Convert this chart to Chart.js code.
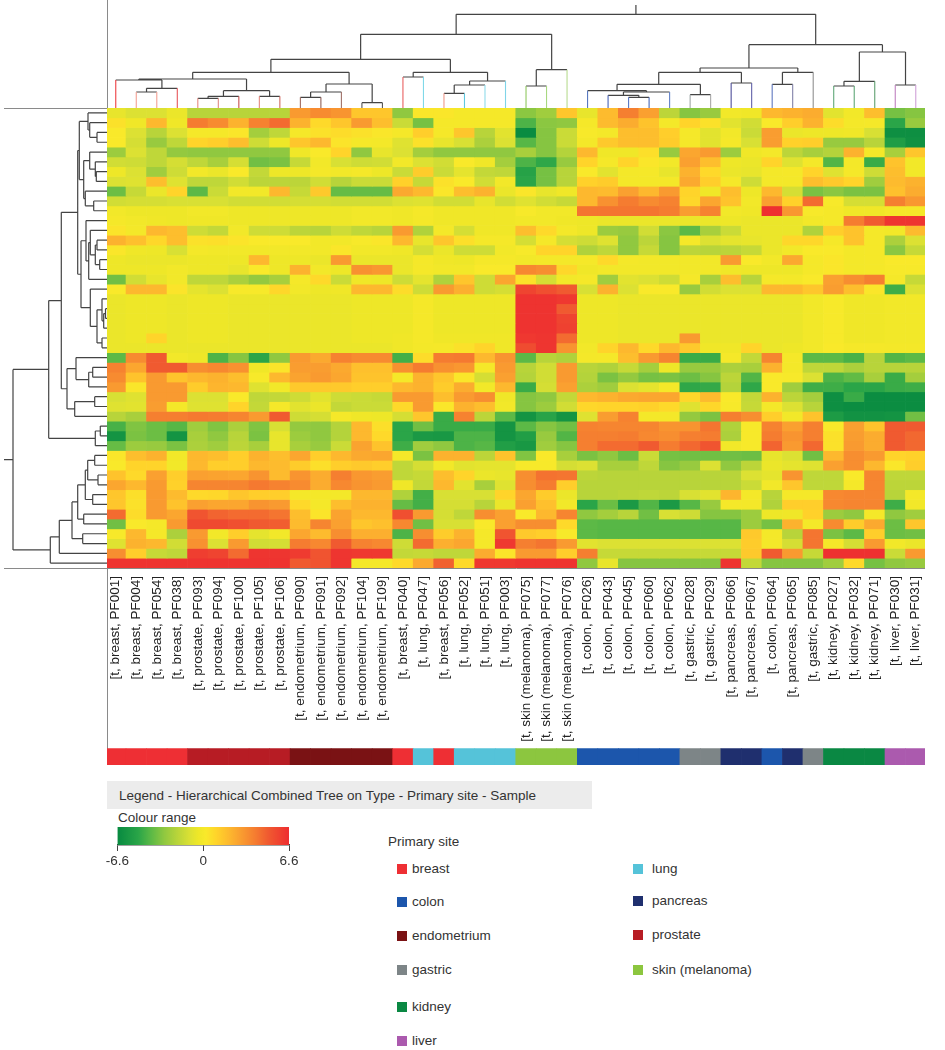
<!DOCTYPE html>
<html>
<head>
<meta charset="utf-8">
<title>Hierarchical Combined Tree</title>
<script src="https://cdn.jsdelivr.net/npm/chart.js@4/dist/chart.umd.min.js"></script>
<style>
  body { margin:0; background:#fff; font-family:"Liberation Sans",sans-serif; color:#333; }
  canvas { position:absolute; }
  .txt { position:absolute; font-size:13.5px; line-height:14px; white-space:nowrap; }
  .box { position:absolute; width:10px; height:10px; }
  #legendBar { position:absolute; left:107px; top:781px; width:485px; height:28px; background:#ececec; }
</style>
</head>
<body>
<div id="legendBar"></div>
<script>
// samples, left to right
const sampleLabels = [
  "[t, breast, PF001]","[t, breast, PF004]","[t, breast, PF054]","[t, breast, PF038]",
  "[t, prostate, PF093]","[t, prostate, PF094]","[t, prostate, PF100]","[t, prostate, PF105]","[t, prostate, PF106]",
  "[t, endometrium, PF090]","[t, endometrium, PF091]","[t, endometrium, PF092]","[t, endometrium, PF104]","[t, endometrium, PF109]",
  "[t, breast, PF040]","[t, lung, PF047]","[t, breast, PF056]","[t, lung, PF052]","[t, lung, PF051]","[t, lung, PF003]",
  "[t, skin (melanoma), PF075]","[t, skin (melanoma), PF077]","[t, skin (melanoma), PF076]",
  "[t, colon, PF026]","[t, colon, PF043]","[t, colon, PF045]","[t, colon, PF060]","[t, colon, PF062]",
  "[t, gastric, PF028]","[t, gastric, PF029]","[t, pancreas, PF066]","[t, pancreas, PF067]",
  "[t, colon, PF064]","[t, pancreas, PF065]","[t, gastric, PF085]",
  "[t, kidney, PF027]","[t, kidney, PF032]","[t, kidney, PF071]","[t, liver, PF030]","[t, liver, PF031]"
]
const sampleSites = [
  "breast","breast","breast","breast","prostate","prostate","prostate","prostate","prostate",
  "endometrium","endometrium","endometrium","endometrium","endometrium",
  "breast","lung","breast","lung","lung","lung",
  "skin (melanoma)","skin (melanoma)","skin (melanoma)",
  "colon","colon","colon","colon","colon","gastric","gastric","pancreas","pancreas",
  "colon","pancreas","gastric","kidney","kidney","kidney","liver","liver"
]
const siteNames = ["breast","colon","endometrium","gastric","kidney","liver","lung","pancreas","prostate","skin (melanoma)"]
const siteColours = ["#ee2f34","#1c56ac","#7a1214","#7d8587","#0a8843","#ab5aae","#55c3d9","#1f2f6e","#b71c24","#8cc63f"]

// colour scale
const colourStopValues = [-6.6,-5,-4,-3,-2,-1,-0.4,0.2,1,2,3,4,5,6.6]
const colourStopHex = ["#078a40","#2aa548","#5cb946","#90c840","#b8d43a","#dce133","#eee728","#f9e92a","#ffd42a","#fdb82e","#f99a30","#f57c30","#f05a30","#ee2d30"]
const colourTicks = [-6.6,0,6.6]

// one line per row, one value per sample
const cellRows = [
[-0.6,-1,-1,-0.5,-2,-2,-2,-2,-2,3,3.5,3.2,1.5,1.5,-3,0.3,0.3,0,0,0,-3.1,-2.6,1.5,-0.6,1.9,3.9,2.8,-1.9,-3.2,-2.8,-0.2,-0.3,2,2.2,2.4,-0.8,-0.2,1.8,-3.5,-3.2],
[0.5,-0.3,2,-0.3,4,3.5,2.2,3.8,4.5,2.2,0.8,1.5,3,1.8,-1.5,-3.5,0,0,0,0,-4.3,-3.1,-3,0,1.9,2.4,1.6,-0.1,1,0.5,-0.8,-1.3,0.2,1.2,2.2,0.7,-0.1,0,-5,-2.8],
[0.2,-1,-2,-1,0,0,0.3,-2.5,-1.8,0,0.5,0.7,0.5,0.3,0,1.2,0,1.5,-2,-0.8,-6.5,-3.2,-1.5,0.1,-0.1,1.8,1.8,1.2,0,-0.8,-0.2,-1.5,2.9,-0.5,-0.4,-0.4,-0.3,-1.1,-6.3,-6.3],
[0.2,-1.2,-2.8,-1.8,1,1.2,1.8,-1.4,-0.4,1.5,2,0.4,0,-0.1,-0.9,0.5,-0.6,-1.1,-2.3,-1,-4.1,-3.2,-1.5,-0.1,1.4,1.8,1.8,1.3,0,-0.8,0,-1.1,2.9,1.1,1.2,-2.8,-2.8,-2,-5.5,-6.2],
[-2.7,-1,-1.8,-2.9,-3,-3,-3,-3,-3,-0.3,0.2,1,-3,-0.6,-1,-2.5,-3,-3,-3,-3,-2.4,-3.2,-2.1,2,-0.3,-0.3,0.6,-2.8,2.6,3,-2.7,-0.3,-0.1,-1.9,-2.4,-2.1,2.2,-0.1,-2.4,1.5],
[-1.3,-1.4,-1.8,-1.2,-1.8,-2.4,-1.2,-3.6,-3.4,-1.6,-0.2,-1.1,-1.4,-1.3,-0.2,-1,-1.3,0.2,-0.3,-2.5,-4.3,-4.9,-2.8,1,0,1,0.3,-0.2,2.8,1.8,-0.4,-0.5,1,-0.9,-0.1,-4.2,-0.1,-4.7,1.6,-0.2],
[-0.4,-1,-2.6,-1.4,-0.2,-0.5,0.2,-1.7,-0.4,-0.4,-0.1,-0.2,0,-0.4,-1.5,1.3,-1.5,-0.7,-1.7,-1.8,-5.2,-3.5,-2,0.2,-0.8,-0.1,0,-0.6,2.2,0.8,-0.5,-0.6,-0.1,0,1,-0.9,0,-1.4,1.8,-0.2],
[-1,-0.9,1.8,-0.9,-1.8,-1.8,-1.3,-1.9,-1.9,-1.9,-1.3,-2,-1.5,-1.5,1.1,-1.6,0.5,0.2,-1.3,-0.2,-5,-3.5,-2,1.1,1.3,-0.1,-0.1,-0.1,2.5,1.2,0,-1.4,-0.1,-0.1,1.8,1.4,1,-2.6,1.9,2.2],
[-3.7,-1.6,-0.5,1,-4,-1.5,-0.2,-0.2,2,-1.6,1.4,-3.8,-3.8,-3.8,2.5,2,0.3,1.8,2.2,-0.5,0.3,-0.6,-0.3,2,1.9,2.8,2,3,1,-0.3,1.8,-0.4,2,-1.2,-3.4,-3.1,-3.4,-3.4,1.7,2.4],
[-1.3,-1.2,-1.2,-1.1,-1.1,-1.1,-1.3,-1.3,-1.3,-1.2,-1.2,-1.3,-1.3,-1.3,-1,-0.9,-1.3,-1.3,-0.6,-1.3,-0.9,-1.3,-1.6,2,3.3,4,3.5,3.8,0.9,2.6,1.6,-0.2,2.8,1.1,4.5,0.1,-1.2,-1.2,3.9,3.1],
[-0.2,-0.4,-0.4,-0.4,-0.2,-0.2,-0.4,-0.4,-0.4,-0.4,-0.4,-0.4,-0.2,-0.2,-0.3,0,-0.3,-0.3,-0.3,-0.3,0.1,-0.2,-0.2,4.2,4.2,4.2,4.2,4,2.9,3.8,-0.2,-0.3,6.5,3.1,0.1,0,-0.3,-0.3,0,0],
[0,-0.2,-0.3,-0.4,-0.3,-0.3,-0.4,-0.4,-0.4,-0.4,-0.4,-0.4,-0.2,-0.2,-0.3,-0.1,-0.3,-0.3,-0.3,-0.3,-0.2,-0.2,-0.3,-0.4,-0.5,-0.5,-0.5,-0.5,-0.5,-0.5,-0.4,-0.5,-0.5,-0.5,-0.2,0,4,5,6.3,6.3],
[0.4,-0.1,2,1.8,-1.4,-1.7,-0.2,-1.4,-1.4,-1.9,-2,-1.4,-1.8,-2,3,-2.2,-0.1,-1.2,-0.3,-0.3,1.8,0.8,-0.1,-0.4,-2.7,-2.8,-1.3,-3.1,-4,-2.4,-1.5,-0.5,-0.5,-0.5,-2.2,1.2,1.6,0,-0.2,1.9],
[2.2,1.7,0.9,1.8,0.5,0.6,0.4,0.2,0.2,0.2,-0.2,-0.2,0.1,0.3,2,-0.6,1.5,0.6,0,0,-1.2,0,-1.2,-1.4,-0.9,-3,-1.9,-3.2,0,-1,-0.7,-0.6,-0.5,0.9,0.9,0,1.6,0,-2.3,-1],
[0.3,-0.3,-0.4,-1.1,-0.1,-0.2,-0.2,-0.2,-0.2,-0.2,-0.2,0.3,-0.2,-0.2,-0.3,-1.2,-0.5,-1.4,-1.4,-0.2,0.1,1,1,-2.2,-1.8,-3,-1.6,-3.2,-1.9,-2,-1.9,-1.6,-0.5,-0.2,0.2,0.2,-0.1,0,-3.1,-1.6],
[-0.4,-0.5,-0.5,-0.5,-0.4,-0.4,-0.4,2,-0.4,-0.4,-0.5,3,-0.5,-0.5,-0.5,0,-0.3,-0.4,0,0,-0.2,-0.1,-0.1,0,0.8,-0.1,-0.2,-0.2,-0.2,-0.2,3,0.2,-0.2,2.5,0,0.3,-0.1,0,0.2,0.2],
[-0.4,-0.4,-0.4,-0.2,-0.4,-0.4,-0.6,0.2,-0.4,2.2,-0.2,-0.4,3.3,3.1,-0.5,0,-0.2,-0.2,0.2,0.2,3.6,3.4,0.9,-0.3,-0.2,-0.2,-0.2,-0.2,-0.2,-0.2,-0.3,-0.4,-0.4,-0.4,0,0.3,-0.1,0,0.1,0.1],
[-3.6,-1.3,-0.6,-0.2,-1.8,-1.8,-2.3,-2.9,-2.4,0,0.8,-1.5,-0.3,-0.4,-1.4,-0.7,-2.2,1.5,-1.4,2.6,0.5,-1.2,-0.2,0,-2.6,-0.8,-1,-1.4,0,-2.4,1.8,-2,0,-0.1,0.2,2.8,3.4,3.9,0,-1.6],
[0.2,2,2,0.4,-0.7,-1,0.1,0.1,0.9,-0.2,-0.4,-0.3,2,2,0.7,-1.4,3,2.3,-1.4,-1.2,5.8,5.4,5,-1.1,2.2,-1,0.2,0.2,-2.8,-1.3,-1,-1,2,2,1.5,2.9,1.8,0.3,-4.6,-1],
[-0.5,-0.4,-0.4,-0.5,-0.4,-0.4,-0.5,-0.5,-0.5,-0.5,-0.5,-0.5,-0.4,-0.4,-0.4,0,-0.4,-0.4,-0.4,-0.4,6.4,6.4,6.2,-0.4,-0.4,-0.5,-0.5,-0.5,-0.5,-0.5,-0.5,-0.5,-0.5,-0.5,-0.2,0.1,-0.3,-0.3,-0.2,-0.2],
[-0.5,-0.4,-0.4,-0.5,-0.4,-0.4,-0.5,-0.5,-0.5,-0.5,-0.5,-0.5,-0.4,-0.4,-0.4,0,-0.4,-0.4,-0.4,-0.4,6.4,6.4,5,-0.4,-0.4,-0.5,-0.5,-0.5,-0.5,-0.5,-0.5,-0.5,-0.5,-0.5,-0.2,0.1,-0.3,-0.3,-0.2,-0.2],
[-0.5,-0.4,-0.4,-0.5,-0.4,-0.4,-0.5,-0.5,-0.5,-0.5,-0.5,-0.5,-0.4,-0.4,-0.4,0,-0.4,-0.4,-0.4,-0.4,6.4,6.4,5.8,-0.4,-0.4,-0.5,-0.5,-0.5,-0.5,-0.5,-0.5,-0.5,-0.5,-0.5,-0.2,0.1,-0.3,-0.3,-0.2,-0.2],
[-0.5,-0.4,-0.4,-0.5,-0.4,-0.4,-0.5,-0.5,-0.5,-0.5,-0.5,-0.5,-0.4,-0.4,-0.4,0,-0.4,-0.4,-0.4,-0.4,6.4,6.4,5.9,-0.4,-0.4,-0.5,-0.5,-0.5,-0.5,-0.5,-0.5,-0.5,-0.5,-0.5,-0.2,0.1,-0.3,-0.3,-0.2,-0.2],
[-0.5,-0.4,1,-0.5,-0.4,-0.4,-0.5,-0.5,-0.5,-0.5,-0.5,-0.5,-0.4,-0.4,-0.3,0,-0.3,-0.3,-0.3,-0.3,6.2,6.3,4.5,-0.4,-0.4,-0.5,-0.5,-0.5,3,-0.5,-0.5,-0.5,-0.5,-0.5,-0.2,0.1,-0.3,-0.3,-0.2,-0.2],
[-0.5,-0.5,-0.5,-0.5,-0.5,-0.5,-0.5,-0.5,-0.5,-0.5,-0.5,-0.5,-0.5,-0.5,-0.3,-0.1,0,0.5,1,-0.3,5.5,6.3,3.2,-0.2,1,2,0.8,2,1.4,-0.3,-0.3,1,-0.5,-0.4,-0.2,0.2,0,0,-0.1,-0.1],
[-4,3.5,5,-0.2,-0.4,-4.3,-3.2,-5,-3,3,2.5,3.8,3.5,3.5,-4.5,0.7,4,4.1,2,3.2,-4,-2,-2.2,-0.1,0,1.8,3,3.7,-4.7,-4.7,0,-1.7,3.7,0,-4,-4,-4.4,-2,-4.2,-4],
[3.8,2.6,5,5,3.4,3.6,3.3,-0.3,0.4,2.9,2.9,2.5,1.7,1.7,3.3,4,3.3,3.1,0,3,-2,-1.3,3,-2,-2.2,-1.6,-2.5,-0.4,-2.8,-2.8,-2.3,-2.4,2.2,-0.1,-1.8,-1.8,-2.3,-2,-2,-2],
[3.5,1.6,3,1.6,2,2.2,1.8,0.1,2,2.7,3,2.6,1.6,1.6,0,2.2,1.5,0.3,-1.2,2.8,-2.1,-1.3,3,-2.1,-3.4,-2.9,-3.5,-3.4,-3.7,-3.2,-1.9,-4.2,0.2,0.1,-1,-4.3,-3.9,-2.4,-4.7,-2.5],
[3,0.3,3,3,1.3,2.1,2,-0.9,-0.2,1.4,1.4,1.4,1.2,1.2,2,2.2,1.3,2.4,-0.2,2,-4.7,-1.2,2.8,-2.3,-2.6,-1,-0.7,0,-4.9,-4.8,-2.1,-4.9,0.2,-2.6,-4.6,-4.6,-5,-5,-4.7,-4.6],
[-1.1,-0.9,3,3,-1,-1,0.2,-1.8,-1.7,-1.4,-0.8,-1.4,-1.5,-1.6,3,3,1.8,3,3.4,-0.3,-3.2,-3,-1.7,2,2.2,2.5,2.6,2.6,0.9,1.9,0.2,-1.7,2.2,-1.9,-2.5,-6.3,-4.7,-6.4,-6.4,-6.4],
[-0.9,-0.8,2.9,-0.1,-0.9,-0.9,1,-1.7,0,-0.8,-0.5,-1.7,-1.5,-1.5,0.8,3,0.3,2.2,1.8,-0.2,-3.2,-2.7,-1.3,0.9,1,1,1.1,0.8,-0.9,0.9,0.1,-1.6,-0.1,-1,-2,-6.3,-6.4,-6.4,-6.4,-6.4],
[-2,-2.4,3.9,3.9,4.1,4,3.7,3,5,-1.4,-1.2,0,-0.3,-0.4,-1.2,1.5,-4.7,3.8,-1.9,-4,-6,-5.1,-6,-0.9,2.9,3.8,-0.1,-0.1,-2.9,-3.4,3.9,3.4,1.2,-0.2,1.6,-5.6,-6.1,-6.1,-6,-3.6],
[-4.4,-3.3,-3.7,-4.1,-2.6,-3.3,-2.3,-3.3,-1.1,-2.9,-3,-2.1,2,0.6,-5,-3.6,-4.7,-4.7,-4.7,-6,-4,-3.2,-3.6,3.8,3.7,3.7,3.7,3.2,3.2,4.2,-2.2,0.1,3.8,2.8,3.9,0.2,2.8,1.6,5,5],
[-6,-3.4,-3.7,-6,-2.4,-3,-2,-3.4,-0.6,-2.7,-3,-2.1,2,0.8,-5,-5.7,-5.8,-4.3,-4.3,-6,-5.4,-2.8,-4.2,3.9,3.9,4,3.6,3.4,3.9,4,-2.3,0.1,4,3.2,3.9,0.5,2.9,2.4,5,4.6],
[-3.8,-2.7,-2.8,-3.4,-2.3,-2.6,-1.9,-2.4,-0.6,-2.4,-2.8,-1.5,2.7,1.6,-4.6,-2.6,-3,-4.3,-4.1,-5.4,-5.8,-2.6,-3.2,3.9,4.5,4.5,5,4,4.6,5.2,-0.2,0.1,4.7,3,4.6,0.5,3,2.4,5,4.6],
[0.3,1.8,2.2,-0.2,2,1.8,1.2,2.2,1.8,2.6,1.2,2,2.5,2.6,0,-3.4,2.2,2.2,-1.9,1.6,-3.3,0.2,-2.4,-3.4,-3,-3.7,-1.5,-3.5,-3.6,-3.6,-3.6,-3.7,-0.6,-1,-3.6,2,3.4,3,1,1.1],
[0.2,1,1,-0.2,2,1.2,1.2,2,1.9,1.3,0.6,1.2,1.4,1.2,-1.8,-1.2,-0.2,-0.8,-0.7,-0.7,0.1,0.1,-1.2,-1,-2.4,-2.4,-1.8,-3.2,-2.8,-1,-3,-1.9,-0.5,-0.7,-0.9,2.8,3.4,2,0.3,1.2],
[1.6,0.8,2.8,1.2,2.8,2.7,2.6,3.2,1.9,3.2,2.4,3.9,3.1,2.9,-1.8,-1.6,1.8,1,-0.5,-0.6,3.4,4.3,4.2,-1.9,-2,-2,-2,-2,-2,-2,-2,-1,-0.7,3.2,-1.8,-1.8,0.2,3.7,-1.8,-1.8],
[2.6,2,3,1.1,3.7,3.7,3.7,4.1,3.8,3.5,2.4,3.6,3.2,3,-0.3,-1.7,2,-0.8,-2.4,-0.9,3.4,4,1.2,-2,-2,-2,-2,-2,-2,-2,-2,-1.5,-0.2,1.5,-1.8,-1.8,0,3.7,-1.9,-1.9],
[1.5,0.6,3,1.9,0.8,0.9,1.5,1.2,1.2,0,-0.1,-0.1,2,2,-2.2,-4.5,-1.1,-1.1,-1.1,1,2.6,1.3,-0.5,-2,-2,-1.9,-1.8,-1.9,-1.1,-0.8,2.1,-0.1,-2,0,0,3.6,3.7,3.7,-2,-0.1],
[1.5,0.5,3,1.6,2.8,2.6,2.6,3.2,3,0.8,0,1.8,2.2,2.2,-3.8,-4.5,-1.2,-1.2,-2,-0.5,2.8,1.7,-0.2,-5,-3.7,-5.7,-4.2,-5.7,-4.1,-2.8,0,-0.1,-2.2,1.2,1.2,3.6,3.7,3.7,-4.6,-0.2],
[4.5,0.7,3,2.6,5.2,4.7,4.5,4.5,4.2,1.8,0.4,2.7,2,2,5.4,3,-1.2,-1.8,3.4,2.8,0.2,2,3.7,-3,-2.5,-2,-3.6,-1.1,-1.4,-3.2,-3.2,-2.7,-0.4,-0.3,1.1,-2.7,-3,0,-3,-2.6],
[-3.6,0.2,0,3,5.6,5.6,5.4,5,4.9,1.9,3.7,2.8,1.5,1.7,3.6,-3.6,-1.1,-1.1,0.2,2.8,3.4,3.4,0.8,-4,-4.1,-4.1,-4.1,-4.1,-4.1,-4.1,-4.1,-2.7,-3.5,2.2,-0.1,3.5,1.3,2.5,-3.7,1.5],
[0.1,2,0,-2.3,3,-0.2,1.2,-0.7,-0.2,2.6,1.9,3.4,2.3,2.3,-4.3,3.4,1.3,2.2,0,5.2,1.4,1.2,0.1,-4,-4.1,-4.1,-4.1,-4.1,-4.1,-4.1,-4.1,1.4,-0.1,-2,4.2,-3.4,-4,1.2,-3.7,-3.6],
[-0.9,2.2,2,-1.3,3.3,-1,3,-1.3,-1.2,4,3.6,5,3.8,3.6,-1.4,4.5,2.3,2.6,0,6.2,3.9,4.2,3,-0.8,-1,-1,-1,-1,-1,-1,-1,1.3,-0.1,-1.2,4.2,0,-1.2,3,-0.2,-0.5],
[3.4,1.2,-1.6,-1.8,6,5.8,4.5,6.3,6.3,6.1,5.2,6.3,6.2,6.2,-1.7,-1.6,-1.8,-1.8,2.4,0.4,3,3,1.2,3.9,-1.6,-1.6,-1.6,-1.6,-1.6,-1.6,-1.6,1.4,5,3,-1.6,6.5,6.5,6.5,-1.5,3],
[6.4,6.4,6.4,6.4,6.4,6.4,6.4,6.4,6.4,5,5.2,6.3,-0.1,-0.1,0.8,2.5,4.8,0.8,6.2,6.2,6.4,6.4,6.4,-3,-0.6,-3.2,-3.2,-3.2,-3.2,-3.2,6.4,-1.7,-3.2,-3.2,-3.2,-2.6,0.8,-3.5,-3,-2.8]
]

// trees: [child a, child b, height]; children below leaf count are leaves, above are earlier merges
const sampleTree = [
[1,2,16],[40,3,19.7],[0,41,28],[4,5,9.7],[43,6,11.7],[7,8,11.7],[44,45,17.3],[42,46,29],
[9,10,10.7],[48,11,16],[12,13,5.3],[49,50,24],[47,51,35.7],[14,15,31],[16,17,14.7],[54,18,23],
[55,19,27],[53,56,35.7],[52,57,48.7],[20,21,22],[59,22,38.3],[58,60,73.7],[25,26,10.7],[24,62,12.7],
[63,27,16],[23,64,17.3],[28,29,13.3],[65,66,23.7],[30,31,25],[67,68,35.7],[32,33,23.7],[70,34,35.7],
[69,71,40],[35,36,22],[73,37,26.7],[38,39,23],[74,75,56],[72,76,63.3],[61,77,93.7]
]
const sampleStemColours = [
  "#ee3f42","#f4a093","#f4a093","#e8575a","#e88a80","#e08a85","#c9504f","#e58a80","#d06a60",
  "#a06a60","#906058","#a07068","#555555","#555555","#e86060","#80d8e8","#f09888","#60c8e0","#90dcea","#80d4e8",
  "#90c860","#a8d880","#b8dc90","#5878c0","#4a64b8","#5878c8","#4868b8","#6080c8","#a0a8a8","#a8a8a8",
  "#50509a","#6060a8","#6078c0","#8080a8","#909090","#60a878","#60a878","#60a070","#c080c0","#d0a0d8"
]
const rowTree = [
[2,3,10],[1,47,17.3],[0,48,19],[6,7,10.7],[5,50,11.7],[4,51,17.3],[9,10,13.3],[8,53,21.7],[52,54,23.3],[49,55,27.7],
[13,14,10],[15,16,7.3],[57,58,11.7],[12,59,16.7],[60,17,18.3],[11,61,21],[20,21,1.5],[63,22,3.3],[19,64,5],[23,24,5],
[65,66,10],[18,67,16.7],[62,68,26],[56,69,29.3],[26,27,14.3],[71,28,18.3],[25,72,31],[29,30,12.3],[74,31,32.3],[73,75,40],
[70,76,45.7],[32,33,6.7],[78,34,11.7],[77,79,58.3],[35,36,12.3],[37,38,9],[81,82,19.3],[39,40,14.3],[83,84,21.7],[41,42,23.3],
[85,86,29.3],[43,44,24.3],[87,88,35],[89,45,47.7],[90,46,56.7],[80,91,94]
]
const treeRootTop = 103

const columnMin = 0.073, columnMax = 39.95
const treeColour = "#444444", ruleColour = "#8a8a8a", textColour = "#333333"
const fontName = "'Liberation Sans', sans-serif"

const hexToRgb = (hex) => [1,3,5].map(i => parseInt(hex.substr(i,2),16))
const colourFor = (value) => {
  let i = 0
  while(i < colourStopValues.length-2 && value > colourStopValues[i+1]){ i++ }
  let t = (value-colourStopValues[i])/(colourStopValues[i+1]-colourStopValues[i])
  t = Math.max(0,Math.min(1,t))
  let a = hexToRgb(colourStopHex[i]), b = hexToRgb(colourStopHex[i+1])
  return `rgb(${a.map((v,k)=>Math.round(v+(b[k]-v)*t)).join(",")})`
}

const addCanvas = (left,top,width,height) => {
  var c = document.createElement("canvas")
  c.width = width
  c.height = height
  c.style.left = left+"px"
  c.style.top = top+"px"
  document.body.appendChild(c)
  return c
}
const baseOptions = {
  responsive:false, animation:false, events:[],
  plugins:{legend:{display:false},tooltip:{enabled:false}}
}
const hiddenGrid = {display:false,drawTicks:false}
const flat = (s) => { s.height = 0 }
const thin = (s) => { s.width = 0 }

// tree as line datasets, leaf stems get their own colour
const treeDatasets = (merges,leafCount,stemColours,toPoint) => {
  var pos = [], hgt = [], black = [], sets = []
  for(let i = 0;i < leafCount;i++){ pos[i] = i+0.5; hgt[i] = 0 }
  merges.forEach((m,k) => {
    let id = leafCount+k
    pos[id] = (pos[m[0]]+pos[m[1]])/2
    hgt[id] = m[2]
    for(let j = 0;j < 2;j++){
      let c = m[j], line = [toPoint(pos[c],hgt[c]),toPoint(pos[c],m[2])]
      if(c < leafCount && stemColours){
        sets.push({data:line,borderColor:stemColours[c],borderWidth:1.1,showLine:true,pointRadius:0})
      }else{
        black.push(line[0],line[1],{x:null,y:null})
      }
    }
    black.push(toPoint(pos[m[0]],m[2]),toPoint(pos[m[1]],m[2]),{x:null,y:null})
  })
  let root = leafCount+merges.length-1
  black.push(toPoint(pos[root],hgt[root]),toPoint(pos[root],treeRootTop))
  sets.push({data:black,borderColor:treeColour,borderWidth:1.2,showLine:true,pointRadius:0,spanGaps:false})
  return sets
}

// top tree
new Chart(addCanvas(107,0,818,109),{
  type:"scatter",
  data:{datasets:treeDatasets(sampleTree,40,sampleStemColours,(p,h)=>({x:p,y:h}))},
  options:{...baseOptions,
    layout:{padding:{bottom:1}},
    scales:{
      x:{type:"linear",min:columnMin,max:columnMax,ticks:{display:false},grid:hiddenGrid,border:{color:ruleColour},afterFit:flat},
      y:{min:0,max:108,ticks:{display:false},grid:hiddenGrid,border:{color:ruleColour},afterFit:thin}
    }
  }
})

// left tree
new Chart(addCanvas(4,107,103,463),{
  type:"scatter",
  data:{datasets:treeDatasets(rowTree,47,null,(p,h)=>({x:h,y:p}))},
  options:{...baseOptions,
    layout:{padding:{top:1,bottom:2}},
    scales:{
      x:{type:"linear",reverse:true,min:0,max:103,ticks:{display:false},grid:hiddenGrid,border:{color:ruleColour},afterFit:flat},
      xTop:{axis:"x",type:"linear",position:"top",reverse:true,min:0,max:103,ticks:{display:false},grid:hiddenGrid,border:{color:ruleColour},afterFit:flat},
      y:{reverse:true,min:0,max:47,display:false}
    }
  }
})

// site strip
new Chart(addCanvas(107,568,818,197),{
  type:"bar",
  data:{datasets:[{
    data:sampleSites.map((s,i)=>({x:i+0.5,y:[0,1]})),
    backgroundColor:sampleSites.map(s=>siteColours[siteNames.indexOf(s)]),
    barPercentage:1,categoryPercentage:1
  }]},
  options:{...baseOptions,
    scales:{
      x:{type:"linear",offset:false,min:columnMin,max:columnMax,display:false},
      y:{reverse:true,min:-11,max:1,ticks:{display:false},grid:hiddenGrid,border:{color:ruleColour},afterFit:thin}
    }
  }
})

// heat map, one bar dataset per row
new Chart(addCanvas(107,108,818,640),{
  type:"bar",
  data:{datasets:cellRows.map((row,r)=>({
    data:row.map((v,i)=>({x:i+0.5,y:[r,r+1]})),
    backgroundColor:row.map(colourFor),
    barPercentage:1,categoryPercentage:1,grouped:false
  }))},
  options:{...baseOptions,
    scales:{
      x:{type:"linear",offset:false,min:columnMin,max:columnMax,
        grid:hiddenGrid,border:{color:ruleColour},
        afterBuildTicks:(s)=>{ s.ticks = sampleLabels.map((l,i)=>({value:i+0.5})) },
        afterFit:(s)=>{ s.height = 180; s.paddingLeft = 0; s.paddingRight = 0 },
        ticks:{autoSkip:false,minRotation:90,maxRotation:90,padding:8,color:"#222",
          font:{family:fontName,size:13.5},
          callback:(v,i)=>sampleLabels[i]}
      },
      y:{reverse:true,min:0,max:47,ticks:{display:false},grid:hiddenGrid,border:{color:ruleColour},afterFit:thin}
    }
  }
})

// colour range
new Chart(addCanvas(97,826,215,46),{
  type:"bar",
  data:{labels:["Colour range"],datasets:[{
    data:[[colourTicks[0],colourTicks[2]]],
    barPercentage:1,categoryPercentage:1,
    backgroundColor:(ctx)=>{
      let area = ctx.chart.chartArea
      if(!area){ return "#eee728" }
      let g = ctx.chart.ctx.createLinearGradient(area.left,0,area.right,0)
      colourStopValues.forEach((v,i)=>g.addColorStop((v-colourTicks[0])/(colourTicks[2]-colourTicks[0]),colourStopHex[i]))
      return g
    }
  }]},
  options:{...baseOptions,
    indexAxis:"y",
    layout:{padding:{left:20.5,right:23,top:1}},
    scales:{
      x:{type:"linear",offset:false,min:colourTicks[0],max:colourTicks[2],
        grid:{drawOnChartArea:false,tickLength:6,color:"#444"},
        border:{color:"#444",width:1.5},
        afterBuildTicks:(s)=>{ s.ticks = colourTicks.map(v=>({value:v})) },
        afterFit:(s)=>{ s.height = 27 },
        ticks:{autoSkip:false,maxRotation:0,padding:2,color:textColour,font:{family:fontName,size:13.5},callback:(v)=>String(v)}
      },
      y:{display:false}
    }
  }
})

// legend text
const addText = (text,left,top) => {
  var d = document.createElement("div")
  d.className = "txt"
  d.textContent = text
  d.style.left = left+"px"
  d.style.top = top+"px"
  document.body.appendChild(d)
}
addText("Legend - Hierarchical Combined Tree on Type - Primary site - Sample",119,789)
addText("Colour range",118,811)
addText("Primary site",388,835)
const legendLeftY = [862,895,929,963,1000,1034]
const legendRightY = [862,894,928,963]
siteNames.forEach((s,i)=>{
  let right = i > 5
  let y = right ? legendRightY[i-6] : legendLeftY[i]
  let b = document.createElement("div")
  b.className = "box"
  b.style.background = siteColours[i]
  b.style.left = (right ? 633 : 397)+"px"
  b.style.top = (y+2)+"px"
  document.body.appendChild(b)
  addText(s,right ? 652 : 412,y)
})
</script>
</body>
</html>
